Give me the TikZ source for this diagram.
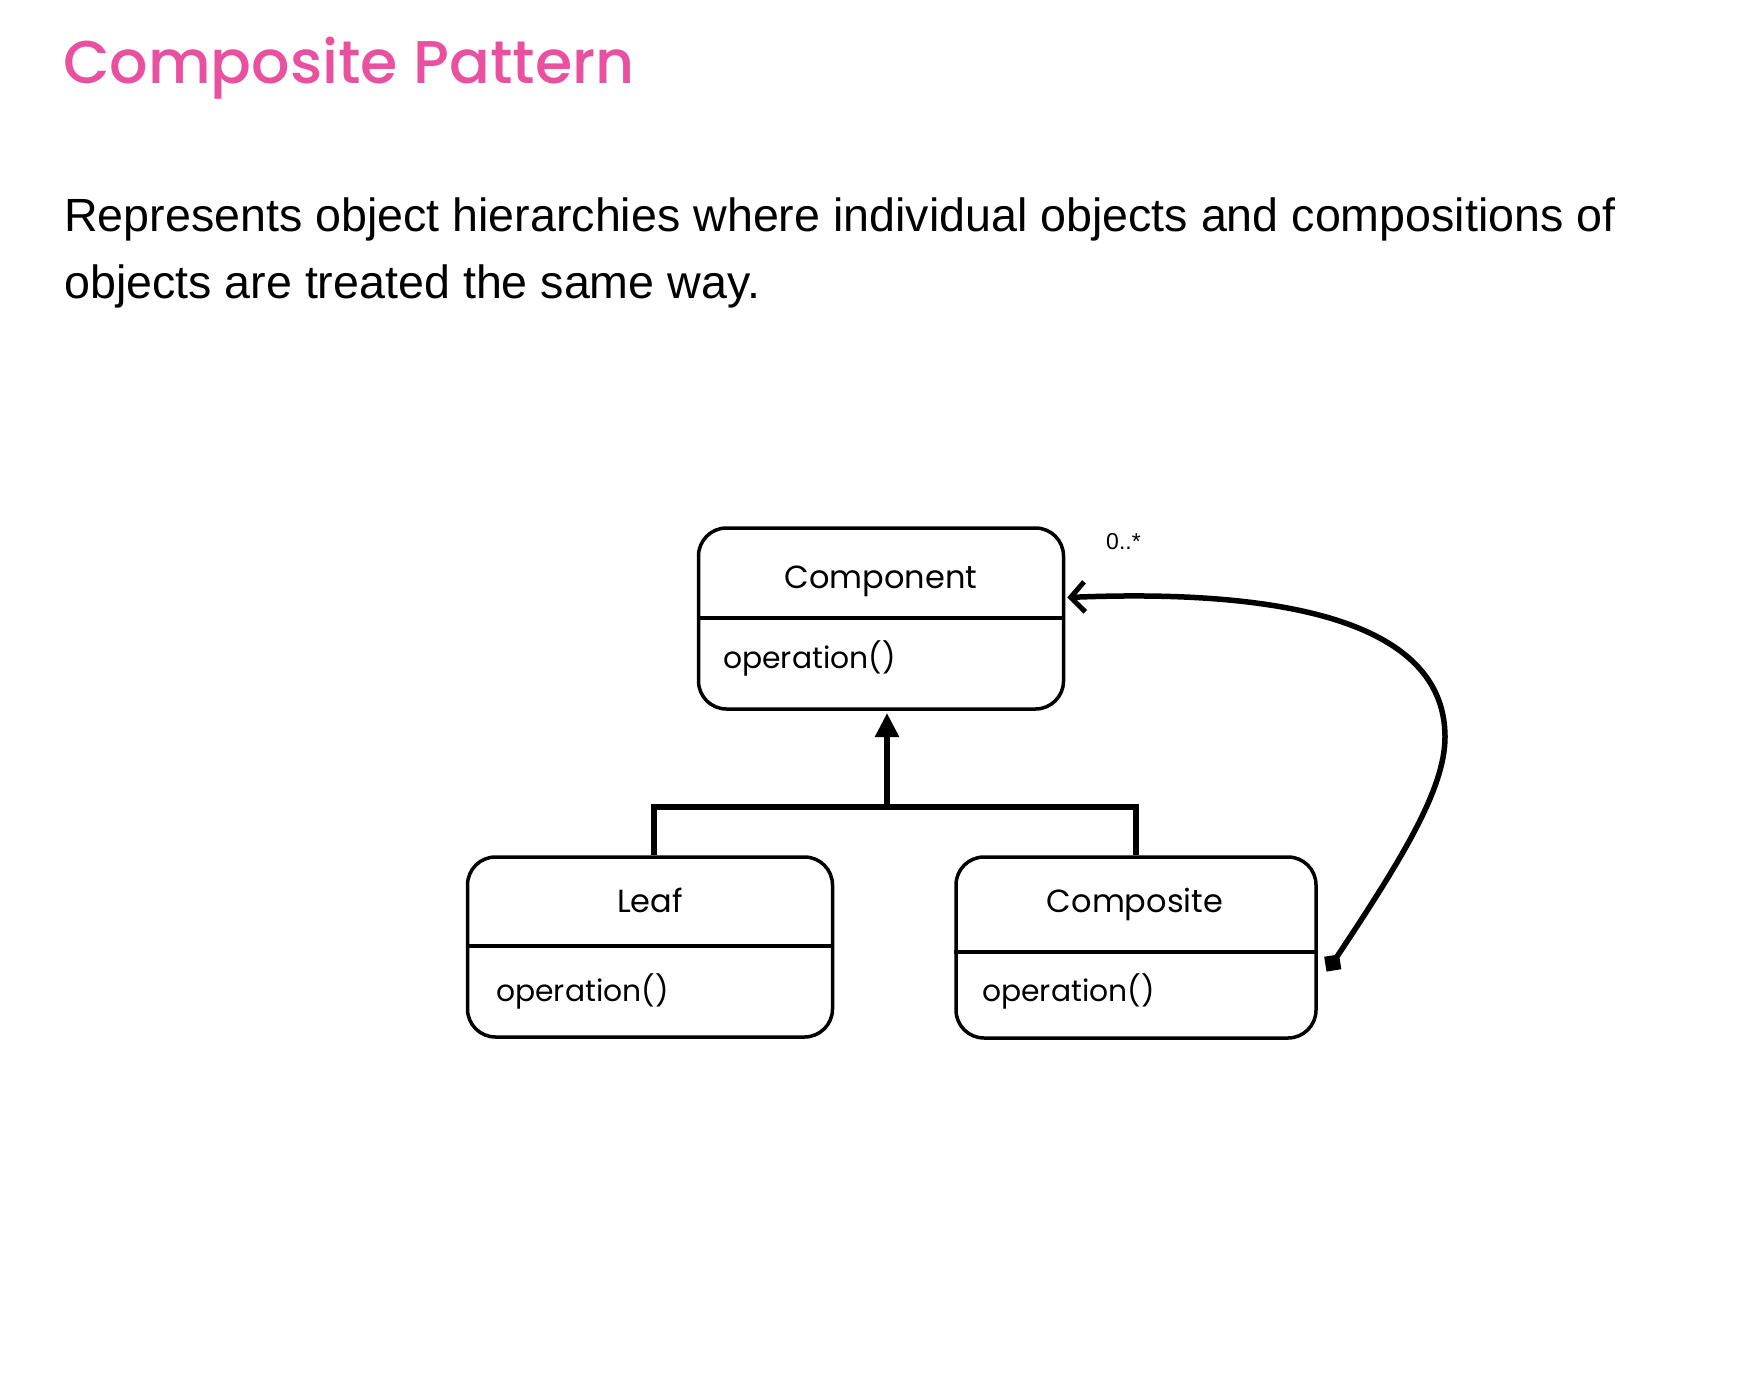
\documentclass[tikz,border=0pt]{standalone}
\usepackage{fontspec}
\setmainfont{Liberation Sans}
\newfontfamily\pop{Poppins}
\newfontfamily\popmed{Poppins Medium}
\usetikzlibrary{arrows.meta,calc}
\definecolor{titlepink}{RGB}{233,80,160}
\tikzset{
  classbox/.style={draw=black, line width=3.5bp, rounded corners=28bp, minimum width=#1, inner sep=0pt, fill=white},
  divider/.style={line width=3.3bp},
  cname/.style={anchor=base, inner sep=0pt, font=\pop\fontsize{32bp}{38bp}\selectfont},
  cop/.style={anchor=base west, inner sep=0pt, font=\pop\fontsize{29.8bp}{36bp}\selectfont},
  conn/.style={line width=5.5bp},
  inh/.style={conn, -{Triangle[length=24bp,width=23bp]}},
  assoc/.style={conn, -{Straight Barb[length=14bp,width=30bp,line width=5bp]}},
  sqmark/.style={fill=black, minimum size=15bp, inner sep=0pt, rotate=9},
}
\begin{document}
\begin{tikzpicture}[x=1bp,y=-1bp]
\useasboundingbox[fill=white] (0,0) rectangle (1750,1380);
% title and description
\node[anchor=base west, inner sep=0pt, text=titlepink, font=\popmed\fontsize{60.3bp}{70bp}\selectfont] (title) at (63,84) {Composite Pattern};
\node[anchor=base west, inner sep=0pt, font=\fontsize{46.6bp}{54bp}\selectfont] (desc1) at (64,232) {Represents object hierarchies where individual objects and compositions of};
\node[anchor=base west, inner sep=0pt, font=\fontsize{46.6bp}{54bp}\selectfont] (desc2) at (64,299) {objects are treated the same way.};
% class boxes
\node[classbox=365bp, minimum height=181bp] (comp) at (881,618.5) {};
\node[classbox=365bp, minimum height=180bp] (leaf) at (650,947) {};
\node[classbox=360bp, minimum height=181bp] (compo) at (1136,947.5) {};
\draw[divider] (comp.west |- 0,618) -- (comp.east |- 0,618);
\draw[divider] (leaf.west |- 0,946) -- (leaf.east |- 0,946);
\draw[divider] (compo.west |- 0,952) -- (compo.east |- 0,952);
\node[cname] (compn) at (881,588) {Component};
\node[cop] (compop) at (723,668) {operation()};
\node[cname] (leafn) at (650,912) {Leaf};
\node[cop] (leafop) at (496,1001) {operation()};
\node[cname] (compon) at (1135,912) {Composite};
\node[cop] (compoop) at (982,1001) {operation()};
% inheritance
\coordinate (junc) at (887,807);
\draw[conn, line cap=butt] (leaf.north -| 654,0) -- (654,807) -- (1136,807) -- (compo.north);
\draw[inh] (junc) -- (887,713);
% association
\node[sqmark] (sq) at ($(compo.east)+(15,15.5)$) {};
\draw[assoc] (sq.center) .. controls (1400,862) and (1445,790) .. (1445,737)
  .. controls (1445,610) and (1250,590) .. ($(comp.east)+(2,-21)$);
\node[anchor=base west, inner sep=0pt, font=\fontsize{23bp}{28bp}\selectfont] (mult) at (1106,549) {0..*};
\end{tikzpicture}
\end{document}
